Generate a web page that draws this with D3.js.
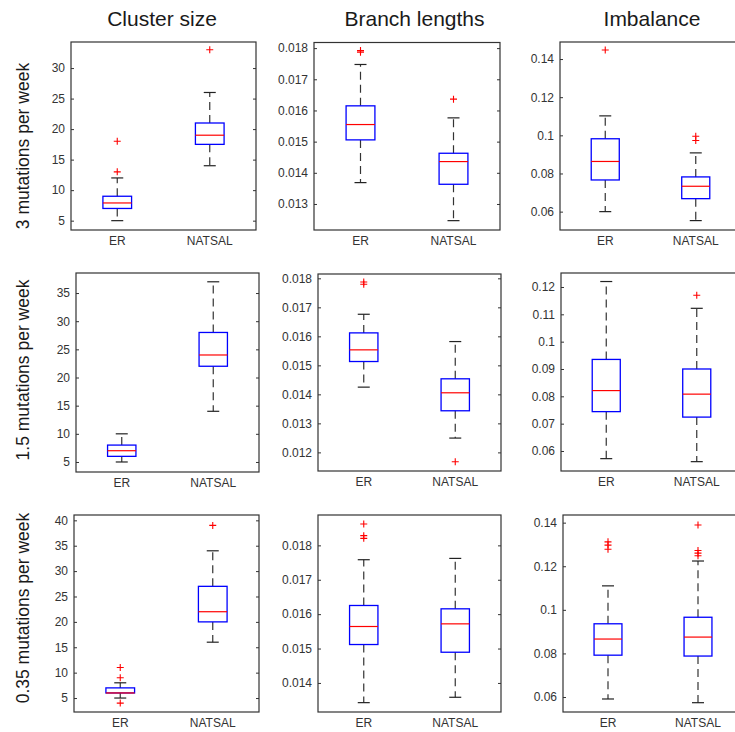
<!DOCTYPE html>
<html>
<head>
<meta charset="utf-8">
<script src="https://cdn.jsdelivr.net/npm/d3@7"></script>
<style>
  html, body { margin: 0; padding: 0; background: #fff; }
  svg { display: block; font-family: "Liberation Sans", Arial, Helvetica, sans-serif; }
</style>
</head>
<body>
<svg id="chart" width="735" height="732"></svg>
<script>
// ---------------- DATA ----------------
const groups = ["ER", "NATSAL"];
const colTitles = ["Cluster size", "Branch lengths", "Imbalance"];
const rowLabels = ["3 mutations per week", "1.5 mutations per week", "0.35 mutations per week"];

// box stats per group: [lower whisker, Q1, median, Q3, upper whisker]
const size3 = [[5, 7, 7.9, 9, 12], [14, 17.5, 19, 21, 26]];
const size3Out = [[13, 18], [33]];
const branch3 = [[0.013685, 0.015056, 0.015548, 0.016148, 0.017475], [0.012465, 0.013632, 0.01436, 0.014627, 0.015762]];
const branch3Out = [[0.01792, 0.01787], [0.016362]];
const imb3 = [[0.06, 0.0766, 0.0863, 0.0982, 0.1102], [0.0553, 0.0668, 0.0733, 0.0782, 0.0908]];
const imb3Out = [[0.1447], [0.0995, 0.0973]];

const size15 = [[5, 6, 7, 8, 10], [14, 22, 24, 28, 37]];
const size15Out = [[], []];
const branch15 = [[0.014249, 0.015132, 0.015534, 0.016119, 0.016761], [0.012493, 0.013434, 0.014054, 0.014536, 0.01582]];
const branch15Out = [[0.017874, 0.017794], [0.011679]];
const imb15 = [[0.0572, 0.0744, 0.0821, 0.0935, 0.1220], [0.0561, 0.0724, 0.0808, 0.09, 0.1122]];
const imb15Out = [[], [0.1170]];

const size035 = [[5, 6, 6, 7, 8], [16, 20, 22, 27, 34]];
const size035Out = [[11, 9, 4], [39]];
const branch035 = [[0.013427, 0.015117, 0.015641, 0.016252, 0.017583], [0.013583, 0.014893, 0.015718, 0.016155, 0.017621]];
const branch035Out = [[0.018621, 0.018282, 0.018204], [] ];
const imb035 = [[0.0591, 0.0792, 0.0866, 0.0936, 0.1110], [0.0574, 0.0788, 0.0875, 0.0966, 0.1224]];
const imb035Out = [[0.1312, 0.1297, 0.1278], [0.1389, 0.1272, 0.1260, 0.1248]];

// tick values
const ticksSize3 = [5, 10, 15, 20, 25, 30];
const ticksBranch3 = [0.013, 0.014, 0.015, 0.016, 0.017, 0.018];
const ticksImb3 = [0.06, 0.08, 0.1, 0.12, 0.14];
const ticksSize15 = [5, 10, 15, 20, 25, 30, 35];
const ticksBranch15 = [0.012, 0.013, 0.014, 0.015, 0.016, 0.017, 0.018];
const ticksImb15 = [0.06, 0.07, 0.08, 0.09, 0.1, 0.11, 0.12];
const ticksSize035 = [5, 10, 15, 20, 25, 30, 35, 40];
const ticksBranch035 = [0.014, 0.015, 0.016, 0.017, 0.018];
const ticksImb035 = [0.06, 0.08, 0.1, 0.12, 0.14];

// y-axis limits
const limSize3 = [3.47, 34.27], limBranch3 = [0.012165, 0.01818], limImb3 = [0.05037, 0.14893];
const limSize15 = [3.22, 38.56], limBranch15 = [0.011358, 0.018149], limImb15 = [0.05268, 0.12512];
const limSize035 = [2.25, 41.05], limBranch035 = [0.013155, 0.018883], limImb035 = [0.05313, 0.14351];

// ---------------- LAYOUT ----------------
const panels = [
  {r: [71, 42, 256, 230],   s: size3,    o: size3Out,    t: ticksSize3,    d: limSize3},
  {r: [314, 42.5, 500, 230],s: branch3,  o: branch3Out,  t: ticksBranch3,  d: limBranch3},
  {r: [560, 42, 741, 230],  s: imb3,     o: imb3Out,     t: ticksImb3,     d: limImb3},
  {r: [76, 273, 259, 472],  s: size15,   o: size15Out,   t: ticksSize15,   d: limSize15},
  {r: [318, 274, 501, 471], s: branch15, o: branch15Out, t: ticksBranch15, d: limBranch15},
  {r: [561, 273, 742, 471], s: imb15,    o: imb15Out,    t: ticksImb15,    d: limImb15},
  {r: [74, 515, 259, 712],  s: size035,  o: size035Out,  t: ticksSize035,  d: limSize035},
  {r: [318, 515, 501, 712], s: branch035,o: branch035Out,t: ticksBranch035,d: limBranch035},
  {r: [563, 515, 743, 712], s: imb035,   o: imb035Out,   t: ticksImb035,   d: limImb035}
];

const svg = d3.select("#chart");
const fmt = d3.format("~g");

panels.forEach(p => {
  const [x0, y0, x1, y1] = p.r;
  const W = x1 - x0;
  const y = d3.scaleLinear().domain(p.d).range([y1, y0]);
  const x = d3.scalePoint().domain(groups).range([x0, x1]).padding(0.5);
  const g = svg.append("g");

  // axes (ticks inward)
  const la = g.append("g").attr("transform", `translate(${x0},0)`)
    .call(d3.axisLeft(y).tickValues(p.t).tickFormat(fmt).tickSizeInner(-3).tickSizeOuter(0).tickPadding(6));
  const ra = g.append("g").attr("transform", `translate(${x1},0)`)
    .call(d3.axisRight(y).tickValues(p.t).tickFormat("").tickSizeInner(-3).tickSizeOuter(0));
  [la, ra].forEach(a => {
    a.select(".domain").remove();
    a.selectAll("line").attr("stroke", "#333");
    a.selectAll("text").attr("font-size", 12).attr("fill", "#333")
      .attr("font-family", '"Liberation Sans", Arial, sans-serif');
  });

  // frame
  g.append("rect").attr("x", x0).attr("y", y0).attr("width", W).attr("height", y1 - y0)
    .attr("fill", "none").attr("stroke", "#333").attr("stroke-width", 1.2);

  // x labels
  g.selectAll(".xl").data(groups).join("text")
    .attr("x", d => x(d)).attr("y", y1 + 15).attr("text-anchor", "middle")
    .attr("font-size", 12).attr("fill", "#333").text(d => d);

  const bw = W * 0.155, cw = 12;
  groups.forEach((grp, i) => {
    const [lw, q1, med, q3, uw] = p.s[i];
    const cx = x(grp);
    // whiskers (dashed)
    g.append("line").attr("x1", cx).attr("x2", cx).attr("y1", y(q3)).attr("y2", y(uw))
      .attr("stroke", "#333").attr("stroke-width", 1.2).attr("stroke-dasharray", "8,5");
    g.append("line").attr("x1", cx).attr("x2", cx).attr("y1", y(q1)).attr("y2", y(lw))
      .attr("stroke", "#333").attr("stroke-width", 1.2).attr("stroke-dasharray", "8,5");
    // caps
    [lw, uw].forEach(v => g.append("line").attr("x1", cx - cw / 2).attr("x2", cx + cw / 2)
      .attr("y1", y(v)).attr("y2", y(v)).attr("stroke", "#222").attr("stroke-width", 1.2));
    // box
    g.append("rect").attr("x", cx - bw / 2).attr("width", bw)
      .attr("y", y(q3)).attr("height", Math.max(0, y(q1) - y(q3)))
      .attr("fill", "none").attr("stroke", "#0000ff").attr("stroke-width", 1.3);
    // median
    g.append("line").attr("x1", cx - bw / 2).attr("x2", cx + bw / 2)
      .attr("y1", y(med)).attr("y2", y(med)).attr("stroke", "#ff0000").attr("stroke-width", 1.2);
    // outliers
    p.o[i].forEach(v => {
      const yy = y(v), h = 3.5;
      g.append("path").attr("d", `M${cx - h},${yy}H${cx + h}M${cx},${yy - h}V${yy + h}`)
        .attr("stroke", "#ff0000").attr("stroke-width", 1.1).attr("fill", "none");
    });
  });
});

// column titles
const titleX = [162, 414.5, 652];
svg.selectAll(".ct").data(colTitles).join("text")
  .attr("x", (d, i) => titleX[i]).attr("y", 26).attr("text-anchor", "middle")
  .attr("font-size", 21).attr("fill", "#1a1a1a").text(d => d);

// row labels
const rowY = [146, 370, 608];
svg.selectAll(".rl").data(rowLabels).join("text")
  .attr("transform", (d, i) => `translate(29,${rowY[i]}) rotate(-90)`)
  .attr("text-anchor", "middle").attr("font-size", 17.5).attr("fill", "#1a1a1a").text(d => d);
</script>
</body>
</html>
